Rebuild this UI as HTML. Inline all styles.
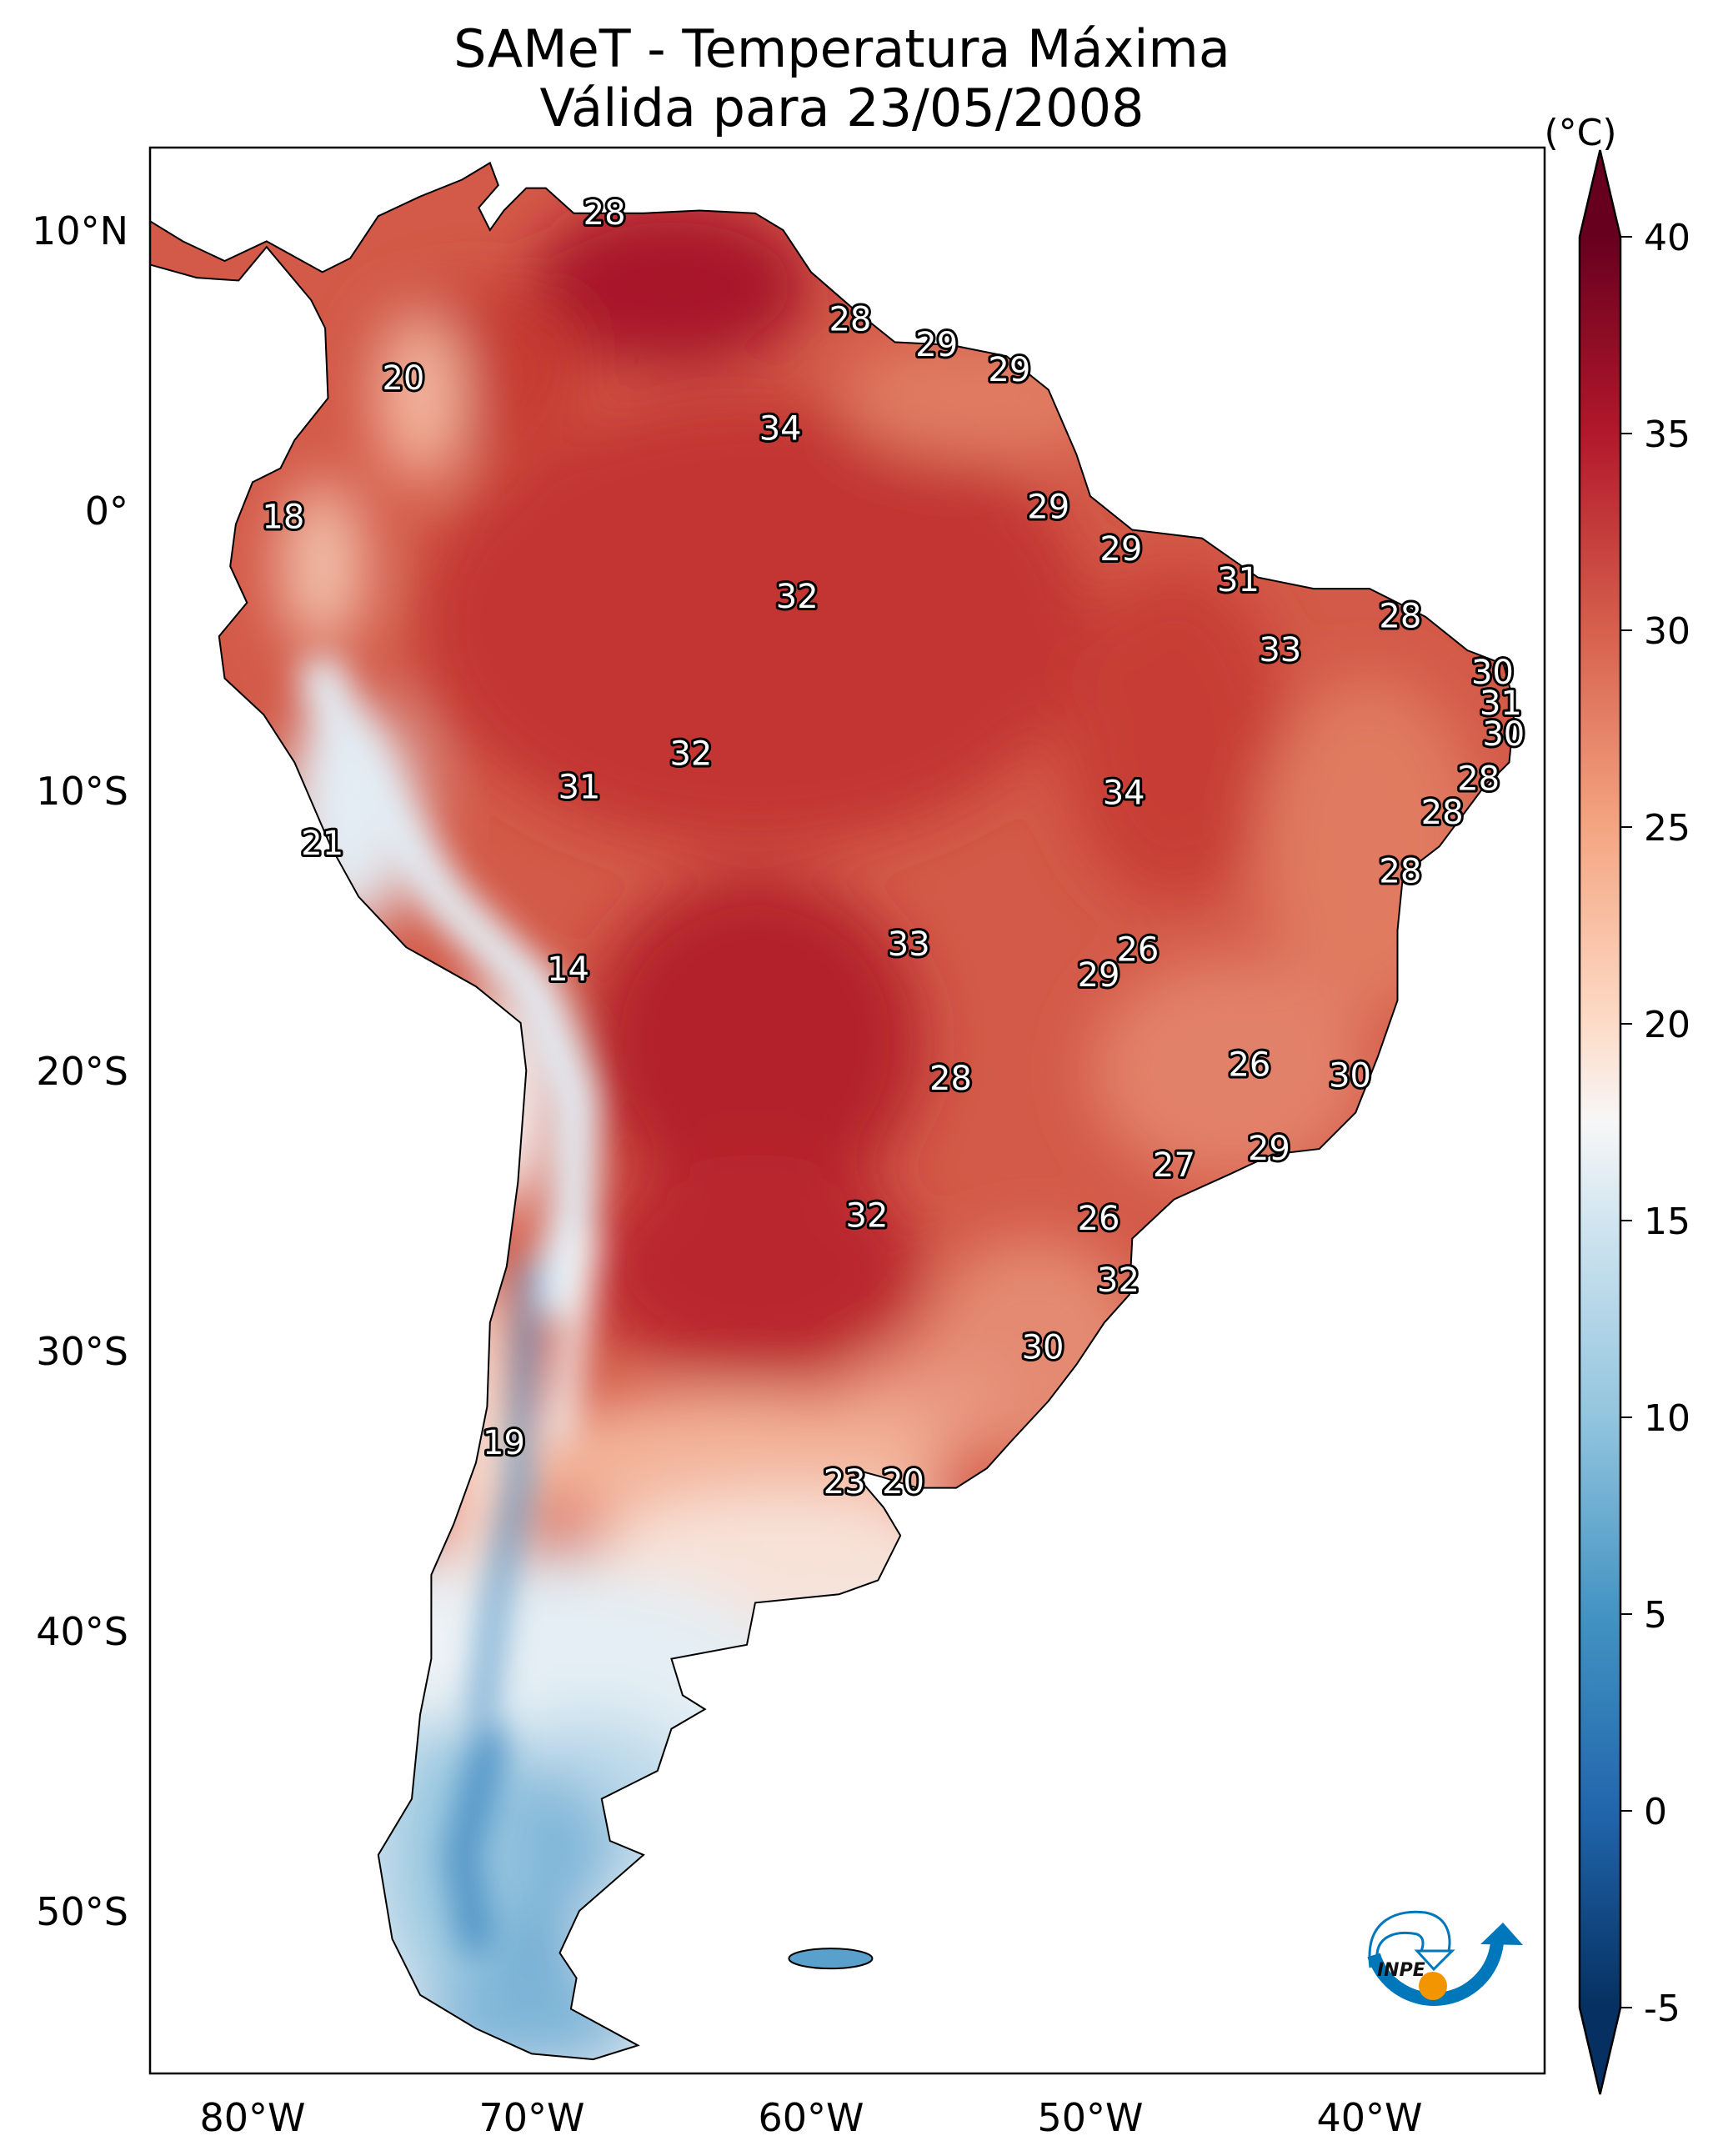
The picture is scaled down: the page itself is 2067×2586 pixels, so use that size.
<!DOCTYPE html>
<html><head><meta charset="utf-8"><style>
html,body{margin:0;padding:0;background:#fff}
svg{display:block;font-family:"DejaVu Sans","Liberation Sans",sans-serif}
.lbl{font-size:40px;fill:#fff;stroke:#000;stroke-width:6px;paint-order:stroke;stroke-linejoin:round;text-anchor:middle;dominant-baseline:central}
</style></head><body>
<svg id="fig" width="2067" height="2586" viewBox="0 0 2067 2586" xmlns="http://www.w3.org/2000/svg">
<defs>
<filter id="blur" x="-50%" y="-50%" width="200%" height="200%"><feGaussianBlur stdDeviation="35"/></filter>
<filter id="blurS" x="-50%" y="-50%" width="200%" height="200%"><feGaussianBlur stdDeviation="20"/></filter>
<clipPath id="landClip"><path id="landClipPath"/></clipPath>
<clipPath id="frameClip"><rect x="180" y="177" width="1673" height="2310"/></clipPath>
<linearGradient id="cbGrad" x1="0" y1="1" x2="0" y2="0">
<stop offset="0" stop-color="#053061"/><stop offset="0.111" stop-color="#2166ac"/>
<stop offset="0.222" stop-color="#4393c3"/><stop offset="0.333" stop-color="#92c5de"/>
<stop offset="0.444" stop-color="#d1e5f0"/><stop offset="0.5" stop-color="#f7f7f7"/>
<stop offset="0.556" stop-color="#fddbc7"/><stop offset="0.667" stop-color="#f4a582"/>
<stop offset="0.778" stop-color="#d6604d"/><stop offset="0.889" stop-color="#b2182b"/>
<stop offset="1" stop-color="#67001f"/>
</linearGradient>
</defs>
<text x="1010" y="80" font-size="62" text-anchor="middle">SAMeT - Temperatura Máxima</text>
<text x="1010" y="151" font-size="62" text-anchor="middle">Válida para 23/05/2008</text>
<g id="mapLayer" clip-path="url(#frameClip)"></g>
<rect x="180" y="177" width="1673" height="2310" fill="none" stroke="#000" stroke-width="2.5"/>
<g id="axes"></g>
<g id="cbar"></g>
<g>
<path d="M1648,2345 A76,76 0 0 0 1796,2330" fill="none" stroke="#0077bb" stroke-width="16"/>
<path d="M1776,2332 L1803,2306 L1827,2333 Z" fill="#0077bb"/>
<path d="M1644,2360 C1636,2300 1680,2290 1710,2294 C1742,2300 1740,2330 1738,2340" fill="none" stroke="#0077bb" stroke-width="3"/>
<path d="M1652,2350 C1650,2322 1675,2315 1700,2320 C1712,2325 1705,2340 1705,2340" fill="none" stroke="#0077bb" stroke-width="3"/>
<path d="M1700,2340 L1742,2340 L1720,2362 Z" fill="#fff" stroke="#0077bb" stroke-width="3"/>
<circle cx="1719" cy="2382" r="17" fill="#f39500"/>
<text x="1652" y="2370" font-size="22" font-style="italic" font-weight="bold" fill="#111">INPE</text>
</g>
</svg>
<script>
// ---- data ----
const xTickLons = [-80, -70, -60, -50, -40];
const xTickLabels = ["80°W", "70°W", "60°W", "50°W", "40°W"];
const yTickLats = [10, 0, -10, -20, -30, -40, -50];
const yTickLabels = ["10°N", "0°", "10°S", "20°S", "30°S", "40°S", "50°S"];
const cbTicks = [40, 35, 30, 25, 20, 15, 10, 5, 0, -5];
const labelValues = [28,28,29,29,20,34,18,29,29,31,32,28,33,30,31,30,32,28,31,34,28,21,28,33,26,14,29,26,28,30,29,27,32,26,32,30,19,23,20];
const labelLons = [-67.4,-58.6,-55.5,-52.9,-74.6,-61.1,-78.9,-51.5,-48.9,-44.7,-60.5,-38.9,-43.2,-35.6,-35.3,-35.2,-64.3,-36.1,-68.3,-48.8,-37.4,-77.5,-38.9,-56.5,-48.3,-68.7,-49.7,-44.3,-55.0,-40.7,-43.6,-47.0,-58.0,-49.7,-49.0,-51.7,-71.0,-58.8,-56.7];
const labelLats = [10.6,6.8,5.9,5.0,4.7,2.9,-0.25,0.1,-1.4,-2.5,-3.1,-3.8,-5.0,-5.8,-6.9,-8.0,-8.7,-9.6,-9.9,-10.1,-10.8,-11.9,-12.9,-15.5,-15.7,-16.4,-16.6,-19.8,-20.3,-20.2,-22.8,-23.4,-25.2,-25.3,-27.5,-29.9,-33.3,-34.7,-34.7];
// ---- scales ----
const X = lon => 303 + (lon + 80) * 33.5;
const Y = lat => 612 - lat * 33.6;
const CB = v => 284 + (40 - v) * 47.2;
const NS = "http://www.w3.org/2000/svg";
function mk(tag, attrs, parent){const e=document.createElementNS(NS,tag);for(const k in attrs)e.setAttribute(k,attrs[k]);parent.appendChild(e);return e;}
// continent outline (lon,lat)
const outline = [[-77.5,8.5],[-76.5,9.0],[-75.5,10.5],[-74,11.2],[-72.5,11.8],[-71.5,12.4],[-71.2,11.6],[-71.9,10.8],[-71.5,10.0],[-71,10.7],[-70.2,11.5],[-69.5,11.5],[-68.5,10.6],[-66,10.6],[-64,10.7],[-62,10.6],[-61,10],[-60,8.5],[-58.5,7.2],[-57,6],[-55,5.9],[-53,5.5],[-51.5,4.3],[-50.5,2],[-50,0.5],[-48.5,-0.7],[-46,-1],[-44,-2.4],[-42,-2.8],[-40,-2.8],[-38,-3.8],[-36.5,-5],[-35.2,-5.5],[-34.8,-7],[-35,-9],[-36,-10],[-37.5,-12],[-38.8,-13],[-39,-15],[-39,-17.5],[-39.7,-19.5],[-40.5,-21.5],[-41.8,-22.8],[-43.5,-23],[-45,-23.7],[-47,-24.6],[-48.5,-26],[-48.6,-28],[-49.5,-29],[-50.5,-30.5],[-51.5,-31.8],[-52.8,-33.2],[-53.7,-34.2],[-54.8,-34.9],[-56.2,-34.9],[-57.5,-34.5],[-58.6,-34.2],[-57.4,-35.6],[-56.8,-36.6],[-57.6,-38.2],[-59,-38.7],[-62,-39],[-62.3,-40.5],[-65,-41],[-64.6,-42.3],[-63.8,-42.8],[-65,-43.5],[-65.5,-45],[-67.5,-46],[-67.2,-47.5],[-66,-48],[-68.3,-50],[-69,-51.5],[-68.4,-52.4],[-68.6,-53.5],[-66.2,-54.8],[-67.8,-55.3],[-70,-55.1],[-72,-54.2],[-74,-53],[-75,-51],[-75.5,-48],[-74.3,-46],[-74,-43],[-73.6,-41],[-73.6,-38],[-72.8,-36.2],[-72,-34],[-71.6,-32],[-71.5,-29],[-70.9,-27],[-70.5,-24],[-70.2,-20],[-70.4,-18.3],[-72,-17],[-74.5,-15.6],[-76.2,-13.8],[-77.2,-12],[-78.5,-9],[-79.6,-7.3],[-81,-6],[-81.2,-4.5],[-80.2,-3.3],[-80.8,-2],[-80.6,-0.5],[-80,1],[-79,1.5],[-78.5,2.5],[-77.3,4],[-77.4,6.5],[-77.9,7.5],[-79.5,9.4],[-80.5,8.2],[-82,8.3],[-83.8,8.8],[-83.8,10.4],[-82.5,9.6],[-81,8.9],[-79.5,9.6],[-77.5,8.5]];
const landD = "M" + outline.map(p => X(p[0]).toFixed(1) + "," + Y(p[1]).toFixed(1)).join("L") + "Z";
document.getElementById("landClipPath").setAttribute("d", landD);
const mapG = document.getElementById("mapLayer");
const land = mk("g", {"clip-path":"url(#landClip)"}, mapG);


mk("path", {d: landD, fill: "#d35a48"}, land);
const blurG = mk("g", {filter: "url(#blur)"}, land);
mk("rect", {x: 0, y: Y(-37), width: 2067, height: 800, fill: "#dbe9f2"}, blurG);
// temperature patches: lon, lat, rx(deg), ry(deg), color
const patches = [
 [-62,-4,12,8,"#c23530"],[-65,8,5,3,"#a8192b"],[-72,5,4,3,"#c63a33"],[-62,-19,6,6,"#b3202c"],[-62,-27,6,4,"#ba282d"],
 [-47,-8,4,6,"#c73c34"],[-40,-12,4,6,"#e07a60"],[-45,-20,5,4,"#e28169"],[-54,4,5,2.2,"#e07b62"],[-52,-30,4,4,"#e48a72"],
 [-56,-32,3,2,"#e99780"],[-63,-34,8,2.5,"#f3b49a"],[-61,-37.5,7,2.5,"#f8e2d8"],[-67,-42,6,4,"#e4eef4"],[-68,-46,4,3,"#bcd9ea"],
 [-70,-48,3,3,"#7fb6d8"],[-71,-52,3,2,"#6ba9d1"],[-74,4,1.5,3,"#f4b8a0"],[-77.5,-2,1.5,3,"#f2c2ad"],
 [-76.5,-11,2.5,4,"#e3edf4"],[-71,-21,1.8,4,"#f6f6f6"],[-71.8,-33,1.5,6,"#fbe1d4"],[-73,-41,2,3,"#eef3f6"],
 [-73,-48,2.5,5,"#9ecae1"],[-70,-54,4,1.8,"#7fb6d8"]
];
patches.forEach(p => {
  const e = mk("ellipse", {cx: X(p[0]), cy: Y(p[1]), rx: p[2]*33.5, ry: p[3]*33.6, fill: p[4]}, blurG);
  
  
});
const sG = mk("g", {filter: "url(#blurS)", fill: "none", "stroke-linecap": "round", "stroke-linejoin": "round"}, land);
const strips = [
 [[[-77.5,-6],[-76,-10],[-73,-14],[-70,-17],[-68.5,-21],[-68.5,-25],[-69.3,-28]],"#e3edf4",55],
 [[[-70,-27],[-70.2,-31],[-70.5,-35],[-71.3,-39],[-71.8,-43]],"#4a8fc4",22],
 [[[-68,-26],[-68.6,-30],[-69,-33]],"#f4f4f4",30],
 [[[-71.5,-44],[-72.5,-48],[-72,-51]],"#4a8fc4",40]
];
strips.forEach(s => {
  const e = mk("path", {d: "M" + s[0].map(p => X(p[0]) + "," + Y(p[1])).join("L"), stroke: s[1], "stroke-width": s[2]}, sG);
  
  
});
const coast = mk("path", {d: landD, fill: "none", stroke: "#000", "stroke-width": 2}, mapG);


const falk = mk("ellipse", {cx: X(-59.3), cy: Y(-51.7), rx: 50, ry: 12, fill: "#5aa0cc", stroke: "#000", "stroke-width": 2}, mapG);


// value labels
labelValues.forEach((v, i) => {
  const t = mk("text", {x: X(labelLons[i]), y: Y(labelLats[i]), class: "lbl"}, mapG);
  
  
  t.textContent = v;
});
// axes ticks
const axG = document.getElementById("axes");
xTickLons.forEach((lon, i) => {
  const t = mk("text", {x: X(lon), y: 2556, "font-size": 46, "text-anchor": "middle"}, axG);
  
  
  t.textContent = xTickLabels[i];
});
yTickLats.forEach((lat, i) => {
  const t = mk("text", {x: 154, y: Y(lat) + 17, "font-size": 46, "text-anchor": "end"}, axG);
  
  
  t.textContent = yTickLabels[i];
});
// colorbar
const cbG = document.getElementById("cbar");
const cx0 = 1895, cx1 = 1944, cbTop = CB(40), cbBot = CB(-5), cxm = (cx0 + cx1) / 2;
const bar = mk("path", {d: `M${cx0},${cbTop} L${cx1},${cbTop} L${cx1},${cbBot} L${cx0},${cbBot} Z`, fill: "url(#cbGrad)"}, cbG);


mk("path", {d: `M${cx0},${cbTop} L${cxm},${cbTop-104} L${cx1},${cbTop} Z`, fill: "#67001f"}, cbG);
mk("path", {d: `M${cx0},${cbBot} L${cxm},${cbBot+104} L${cx1},${cbBot} Z`, fill: "#053061"}, cbG);
mk("path", {d: `M${cx0},${cbTop} L${cxm},${cbTop-104} L${cx1},${cbTop} L${cx1},${cbBot} L${cxm},${cbBot+104} L${cx0},${cbBot} Z`, fill: "none", stroke: "#000", "stroke-width": 2.5}, cbG);
cbTicks.forEach(v => {
  const tk = mk("line", {x1: cx1, x2: cx1 + 14, y1: CB(v), y2: CB(v), stroke: "#000", "stroke-width": 2}, cbG);
  
  
  const t = mk("text", {x: 1972, y: CB(v) + 16, "font-size": 44}, cbG);
  
  
  t.textContent = v;
});
const unit = mk("text", {x: 1896, y: 174, "font-size": 44, "text-anchor": "middle"}, cbG);


unit.textContent = "(°C)";
</script>
</body></html>
